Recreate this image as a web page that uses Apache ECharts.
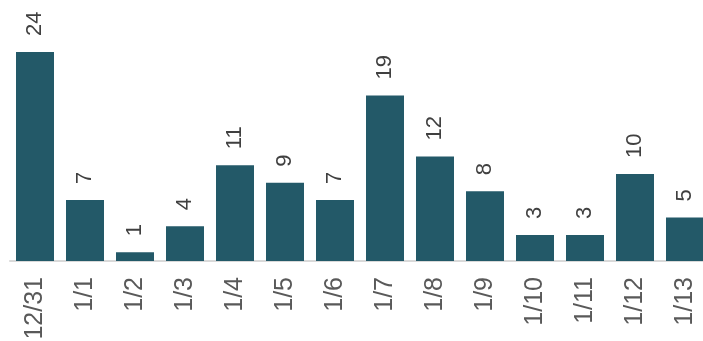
<!DOCTYPE html>
<html><head><meta charset="utf-8">
<script src="https://cdn.jsdelivr.net/npm/echarts@6/dist/echarts.min.js"></script>
<style>html,body{margin:0;padding:0;background:#fff}#c{width:703px;height:341px}</style>
</head><body><div id="c"></div>
<script>
const categories = ['12/31','1/1','1/2','1/3','1/4','1/5','1/6','1/7','1/8','1/9','1/10','1/11','1/12','1/13'];
const values = [24,7,1,4,11,9,7,19,12,8,3,3,10,5];
const chart = echarts.init(document.getElementById('c'));
chart.setOption({
  animation:false,
  grid:{left:10,width:700,top:52,height:209,containLabel:false,outerBoundsMode:'none'},
  xAxis:{type:'category',data:categories,
    axisLine:{lineStyle:{color:'#d9d9d9',width:2}},axisTick:{show:false},
    axisLabel:{rotate:90,fontSize:25,color:'#595959',fontFamily:'Liberation Sans',margin:16,interval:0}},
  yAxis:{type:'value',min:0,max:24,show:false,splitLine:{show:false}},
  series:[{type:'bar',data:values,barCategoryGap:'24%',
    itemStyle:{color:'#235968'},
    label:{show:true,position:'top',rotate:90,align:'left',verticalAlign:'middle',distance:16,
      fontSize:22,color:'#404040',fontFamily:'Liberation Sans'}}]
});
</script></body></html>
